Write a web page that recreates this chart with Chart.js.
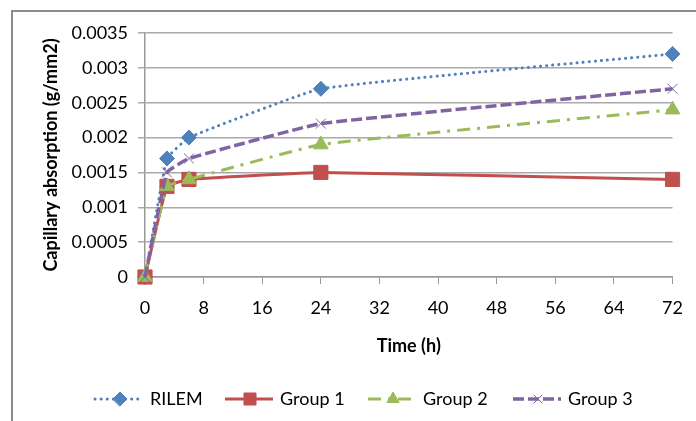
<!doctype html>
<html>
  <head>
    <title>Capillary absorption</title>
    <script src="https://cdn.jsdelivr.net/npm/chart.js@4/dist/chart.umd.min.js"></script>
    <style>
        * { margin: 0; padding: 0; box-sizing: border-box; }
        html, body { width: 696px; height: 421px; overflow: hidden; background: #fff; }
        #frame { position: absolute; left: 11px; top: 10px; width: 720px; height: 440px; border: 2px solid #8c8c8c; }
        #wrap { position: absolute; left: 0; top: 0; width: 696px; height: 421px; }
    </style>
  </head>
  <body>
    <div id="frame"></div>
    <div id="wrap"><canvas id="myCanvas"></canvas></div>
    <script>
    // time in hours
    const hours = [0, 3, 6, 24, 72];
    const rilem  = [0, 0.0017, 0.0020, 0.0027, 0.0032];
    const group1 = [0, 0.0013, 0.0014, 0.0015, 0.0014];
    const group2 = [0, 0.0013, 0.0014, 0.0019, 0.0024];
    const group3 = [0, 0.0015, 0.0017, 0.0022, 0.0027];
    const seriesNames = ["RILEM", "Group 1", "Group 2", "Group 3"];

    const FONT = "Lato";

    function pts(vals) {
        return hours.map((h, i) => ({x: h, y: vals[i]}));
    }

    // legend like excel: line segment with marker in the middle
    const legendX = [95, 225, 368, 513];
    const legendMarker = [7, 8.5, 7, 6];
    const excelLegend = {
        id: 'excelLegend',
        afterDraw(chart) {
            const ctx = chart.ctx;
            const y = 399;
            chart.data.datasets.forEach((ds, i) => {
                const x0 = legendX[i];
                ctx.save();
                ctx.strokeStyle = ds.borderColor;
                ctx.lineWidth = ds.borderWidth;
                ctx.lineCap = ds.borderCapStyle || 'butt';
                ctx.setLineDash(ds.borderDash || []);
                ctx.beginPath();
                ctx.moveTo(x0, y);
                ctx.lineTo(x0 + 48, y);
                ctx.stroke();
                ctx.setLineDash([]);
                ctx.fillStyle = ds.pointBackgroundColor;
                ctx.strokeStyle = ds.pointBorderColor;
                ctx.lineWidth = ds.pointBorderWidth;
                Chart.helpers.drawPoint(ctx, {pointStyle: ds.pointStyle, radius: legendMarker[i], rotation: 0, borderWidth: ds.pointBorderWidth}, x0 + 25, y);
                ctx.fillStyle = '#000';
                ctx.font = '18px ' + FONT;
                ctx.textBaseline = 'middle';
                ctx.textAlign = 'left';
                ctx.fillText(ds.label, x0 + 55, y);
                ctx.restore();
            });
        }
    };

    var ctx = document.getElementById("myCanvas").getContext('2d');
    var myChart = new Chart(ctx, {
        type: 'line',
        data: {
            datasets: [{
                label: seriesNames[0],
                data: pts(rilem),
                borderColor: '#4f81bd',
                backgroundColor: '#4f81bd',
                borderWidth: 3,
                borderDash: [0.1, 6],
                borderCapStyle: 'round',
                pointStyle: 'rectRot',
                pointRadius: 7.5,
                pointBackgroundColor: '#4f81bd',
                pointBorderColor: '#4f81bd',
                pointBorderWidth: 1,
                order: 4
            }, {
                label: seriesNames[1],
                data: pts(group1),
                borderColor: '#c0504d',
                backgroundColor: '#c0504d',
                borderWidth: 3,
                pointStyle: 'rect',
                pointRadius: 10,
                pointBackgroundColor: '#c0504d',
                pointBorderColor: '#c0504d',
                pointBorderWidth: 1,
                order: 3
            }, {
                label: seriesNames[2],
                data: pts(group2),
                borderColor: '#9bbb59',
                backgroundColor: '#9bbb59',
                borderWidth: 3,
                borderDash: [13, 7, 3, 7],
                pointStyle: 'triangle',
                pointRadius: 8.5,
                pointBackgroundColor: '#9bbb59',
                pointBorderColor: '#9bbb59',
                pointBorderWidth: 1,
                order: 2
            }, {
                label: seriesNames[3],
                data: pts(group3),
                borderColor: '#8064a2',
                backgroundColor: '#8064a2',
                borderWidth: 3.5,
                borderDash: [11, 4],
                pointStyle: 'crossRot',
                pointRadius: 7,
                pointBackgroundColor: '#8064a2',
                pointBorderColor: '#8064a2',
                pointBorderWidth: 1,
                order: 1
            }]
        },
        options: {
            responsive: true,
            maintainAspectRatio: false,
            animation: false,
            elements: { line: { tension: 0.1 } },
            datasets: { line: { clip: false } },
            layout: { padding: { left: 0, top: 33, right: 20, bottom: 56 } },
            plugins: {
                legend: { display: false },
                tooltip: { enabled: false }
            },
            scales: {
                x: {
                    type: 'linear',
                    min: 0, max: 72,
                    ticks: { stepSize: 8, color: '#000', font: { family: FONT, size: 18 }, padding: 13, maxRotation: 0 },
                    grid: { drawOnChartArea: false, drawTicks: true, tickLength: 7, color: '#999' },
                    border: { color: '#999', width: 1.5 },
                    title: { display: true, text: 'Time (h)', color: '#000', font: { family: FONT, size: 18, weight: 'bold' }, padding: { top: 0, bottom: 8 } },
                    afterFit(scale) { scale.height = 421 - 56 - 277; }
                },
                y: {
                    min: 0, max: 0.0035,
                    ticks: {
                        stepSize: 0.0005, color: '#000', font: { family: FONT, size: 18 }, padding: 10,
                        callback: v => String(parseFloat(v.toFixed(4)))
                    },
                    grid: { color: '#aaa', lineWidth: 1.5, tickLength: 7 },
                    border: { color: '#999', width: 1.5 },
                    title: { display: true, text: 'Capillary absorption (g/mm2)', color: '#000', font: { family: FONT, size: 18, weight: 'bold' }, padding: { top: 40, bottom: 0 } },
                    afterFit(scale) { scale.width = 145; }
                }
            }
        },
        plugins: [excelLegend]
    });
    </script>
  </body>
</html>
